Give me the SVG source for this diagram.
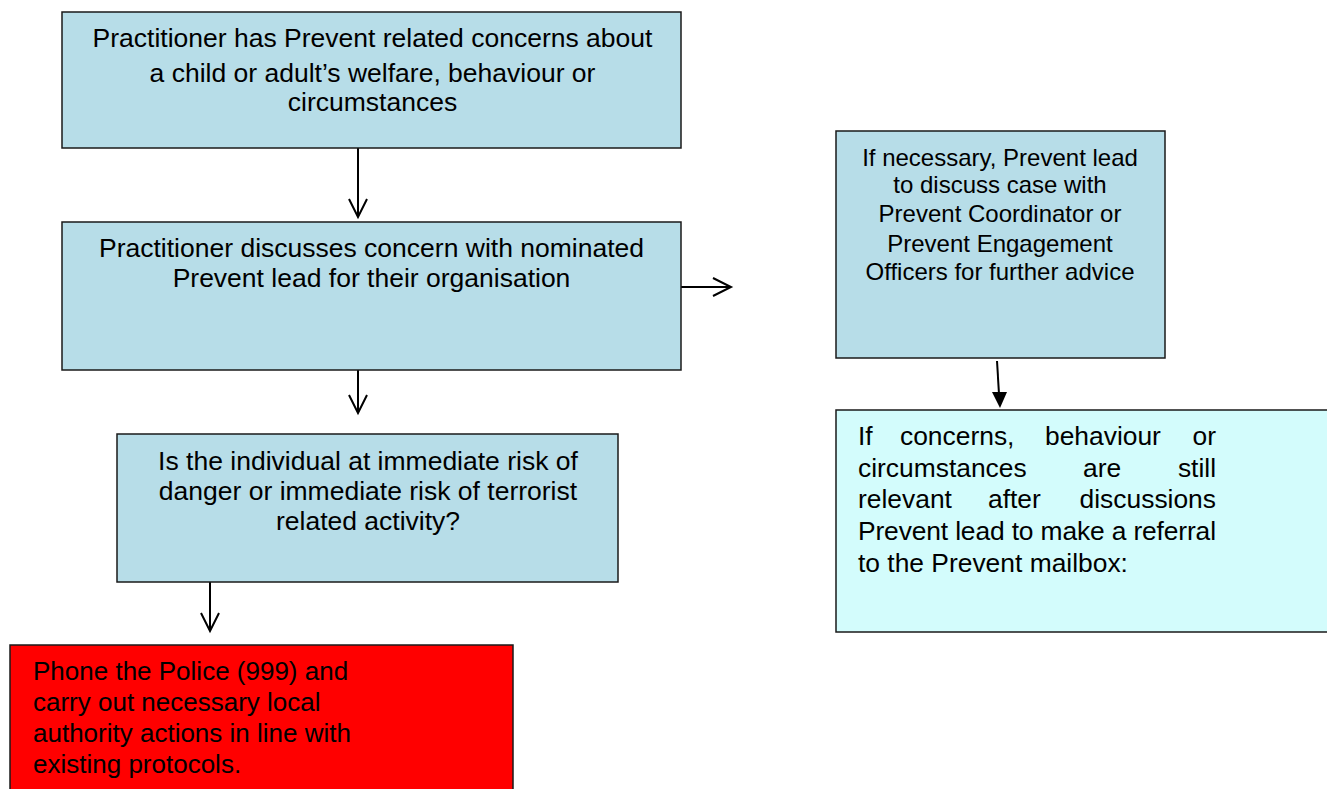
<svg xmlns="http://www.w3.org/2000/svg" width="1327" height="789" viewBox="0 0 1327 789">
<style>
  .box { fill: #B7DDE8; stroke: #1a1a1a; stroke-width: 1.5; }
  .cyan { fill: #D3FCFC; stroke: #1a1a1a; stroke-width: 1.5; }
  .red { fill: #FF0000; stroke: #1a1a1a; stroke-width: 1.5; }
  .t { font-family: "Liberation Sans", Arial, sans-serif; fill: #000; }
  .l { font-size: 26.5px; text-anchor: middle; }
  .r { font-size: 26px; }
  .s { font-size: 24px; text-anchor: middle; }
  .j { font-size: 26.4px; }
  .line { stroke: #000; stroke-width: 2; fill: none; }
  .head { stroke: #000; stroke-width: 2; fill: none; stroke-linejoin: miter; }
</style>

<g id="connectors">
  <line class="line" x1="358" y1="148" x2="358" y2="216"/>
  <path class="head" d="M349,199 L358,217 L367,199"/>
  <line class="line" x1="358" y1="370" x2="358" y2="412"/>
  <path class="head" d="M349,395 L358,413 L367,395"/>
  <line class="line" x1="210" y1="582" x2="210" y2="630"/>
  <path class="head" d="M201,613 L210,631 L219,613"/>
  <line class="line" x1="681" y1="287" x2="731" y2="287"/>
  <path class="head" d="M713,278 L731,287 L713,296"/>
  <line class="line" x1="997" y1="361" x2="999" y2="394"/>
  <path d="M992,392 L1007,392 L1000,408 Z" fill="#000"/>
</g>

<g id="node-concern">
  <rect class="box" x="62" y="12" width="619" height="136"/>
  <text class="t l" x="372.5" y="47">Practitioner has Prevent related concerns about</text>
  <text class="t l" x="372.5" y="82">a child or adult’s welfare, behaviour or</text>
  <text class="t l" x="372.5" y="111">circumstances</text>
</g>

<g id="node-discuss">
  <rect class="box" x="62" y="222" width="619" height="148"/>
  <text class="t l" x="371.5" y="257">Practitioner discusses concern with nominated</text>
  <text class="t l" x="371.5" y="287">Prevent lead for their organisation</text>
</g>

<g id="node-risk">
  <rect class="box" x="117" y="434" width="501" height="148"/>
  <text class="t l" x="368" y="470">Is the individual at immediate risk of</text>
  <text class="t l" x="368" y="500">danger or immediate risk of terrorist</text>
  <text class="t l" x="368" y="530">related activity?</text>
</g>

<g id="node-police">
  <rect class="red" x="10" y="645" width="503" height="150"/>
  <text class="t r" x="33" y="680">Phone the Police (999) and</text>
  <text class="t r" x="33" y="711">carry out necessary local</text>
  <text class="t r" x="33" y="742">authority actions in line with</text>
  <text class="t r" x="33" y="773">existing protocols.</text>
</g>

<g id="node-coordinator">
  <rect class="box" x="836" y="131" width="329" height="227"/>
  <text class="t s" x="1000" y="166">If necessary, Prevent lead</text>
  <text class="t s" x="1000" y="193">to discuss case with</text>
  <text class="t s" x="1000" y="222">Prevent Coordinator or</text>
  <text class="t s" x="1000" y="252">Prevent Engagement</text>
  <text class="t s" x="1000" y="280">Officers for further advice</text>
</g>

<g id="node-referral">
  <rect class="cyan" x="836" y="410" width="495" height="222"/>
  <text class="t j" x="858" y="445">If</text>
  <text class="t j" x="900" y="445">concerns,</text>
  <text class="t j" x="1045" y="445">behaviour</text>
  <text class="t j" x="1216" y="445" text-anchor="end">or</text>
  <text class="t j" x="858" y="477">circumstances</text>
  <text class="t j" x="1083" y="477">are</text>
  <text class="t j" x="1216" y="477" text-anchor="end">still</text>
  <text class="t j" x="858" y="508">relevant</text>
  <text class="t j" x="988" y="508">after</text>
  <text class="t j" x="1216" y="508" text-anchor="end">discussions</text>
  <text class="t j" x="858" y="540" textLength="358" lengthAdjust="spacing">Prevent lead to make a referral</text>
  <text class="t j" x="858" y="572">to the Prevent mailbox:</text>
</g>
</svg>
